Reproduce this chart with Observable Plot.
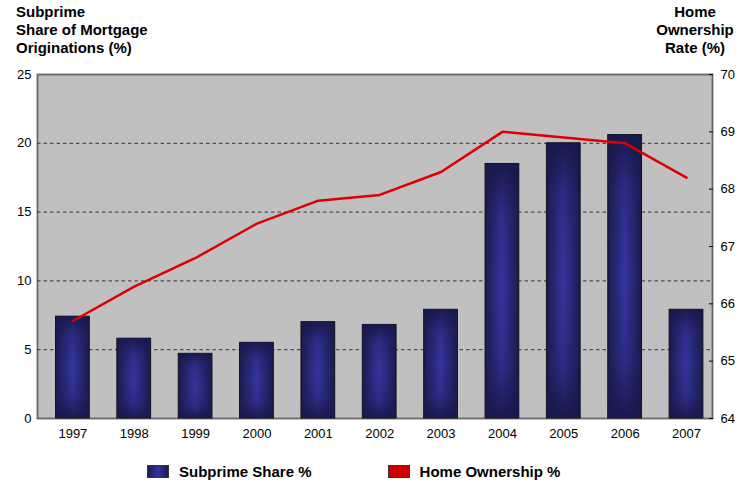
<!DOCTYPE html>
<html>
<head>
<meta charset="utf-8">
<script src="https://cdn.jsdelivr.net/npm/d3@7"></script>
<script src="https://cdn.jsdelivr.net/npm/@observablehq/plot@0.6"></script>
<style>
  body { margin: 0; background: #fff; font-family: "Liberation Sans", Arial, sans-serif; }
  #wrap { position: relative; width: 756px; height: 486px; }
  .ttl { position: absolute; font-weight: bold; font-size: 15px; line-height: 18px; color: #000; }
  #tl { left: 16px; top: 3px; }
  #tr { left: 640px; top: 3px; width: 110px; text-align: center; }
  #legend { position: absolute; top: 463px; left: 147px; font-weight: bold; font-size: 15px; display: flex; align-items: center; }
  .sw { display: inline-block; width: 22px; height: 13px; border: 1px solid #333; margin-right: 10px; box-sizing: border-box; }
  .item { display: flex; align-items: center; }
</style>
</head>
<body>
<div id="wrap">
  <div class="ttl" id="tl">Subprime<br>Share of Mortgage<br>Originations (%)</div>
  <div class="ttl" id="tr">Home<br>Ownership<br>Rate (%)</div>
  <div id="legend">
    <div class="item" style="margin-right:76px"><span class="sw" style="background:linear-gradient(90deg,#1c1c52,#34349c,#1c1c52)"></span>Subprime Share %</div>
    <div class="item"><span class="sw" style="background:#cc0000"></span>Home Ownership %</div>
  </div>
</div>
<script>
const years = ["1997","1998","1999","2000","2001","2002","2003","2004","2005","2006","2007"];
const subprimeShare = [7.4, 5.8, 4.7, 5.5, 7.0, 6.8, 7.9, 18.5, 20.0, 20.6, 7.9];
const homeOwnership = [65.7, 66.3, 66.8, 67.4, 67.8, 67.9, 68.3, 69.0, 68.9, 68.8, 68.2];
const leftTicks = [0, 5, 10, 15, 20, 25];
const gridTicks = [5, 10, 15, 20];
const rightTicks = [64, 65, 66, 67, 68, 69, 70];

const leftMax = 25, rightMin = 64, rightMax = 70;
const toLeft = v => (v - rightMin) * leftMax / (rightMax - rightMin);

const bars = years.map((y, i) => ({year: y, value: subprimeShare[i]}));
const line = years.map((y, i) => ({year: y, value: toLeft(homeOwnership[i])}));

const svg = Plot.plot({
  width: 756,
  height: 486,
  marginTop: 74,
  marginBottom: 68,
  marginLeft: 37,
  marginRight: 44,
  style: {fontFamily: "'Liberation Sans', Arial, sans-serif", fontSize: "13px", color: "#000", background: "transparent"},
  x: {domain: years, paddingInner: 0.45, paddingOuter: 0.225, align: 0.67, round: false, label: null},
  y: {domain: [0, leftMax], label: null},
  marks: [
    Plot.frame({fill: "#c0c0c0", stroke: "#666", strokeWidth: 1.8}),
    Plot.gridY(gridTicks, {stroke: "#333", strokeOpacity: 1, strokeDasharray: "3.5,3", strokeWidth: 1}),
    Plot.barY(bars, {x: "year", y: "value", fill: "url(#gH)", stroke: "#111", strokeWidth: 1}),
    Plot.barY(bars, {x: "year", y: "value", fill: "url(#gV)"}),
    Plot.line(line, {x: "year", y: "value", stroke: "#dd0000", strokeWidth: 2.5}),
    Plot.axisY(leftTicks, {anchor: "left", tickSize: 0, tickPadding: 6, label: null, fontSize: 13}),
    Plot.axisY(rightTicks.map(toLeft), {anchor: "right", tickSize: -4, tickPadding: 12, label: null, fontSize: 13,
      tickFormat: d => String(Math.round(d * (rightMax - rightMin) / leftMax + rightMin))}),
    Plot.axisX({tickSize: 0, tickPadding: 10, label: null, fontSize: 13})
  ]
});

const NS = "http://www.w3.org/2000/svg";
const defs = document.createElementNS(NS, "defs");
function grad(id, horiz, stops) {
  const g = document.createElementNS(NS, "linearGradient");
  g.setAttribute("id", id);
  g.setAttribute("x1", "0"); g.setAttribute("y1", "0");
  g.setAttribute("x2", horiz ? "1" : "0"); g.setAttribute("y2", horiz ? "0" : "1");
  for (const [o, c, op] of stops) {
    const s = document.createElementNS(NS, "stop");
    s.setAttribute("offset", o);
    s.setAttribute("stop-color", c);
    s.setAttribute("stop-opacity", op);
    g.appendChild(s);
  }
  defs.appendChild(g);
}
grad("gH", true, [[0, "#1b1b50", 1], [0.5, "#3535a0", 1], [1, "#1b1b50", 1]]);
grad("gV", false, [[0, "#18184a", 0.95], [0.2, "#18184a", 0.25], [0.5, "#18184a", 0], [0.8, "#18184a", 0.25], [1, "#18184a", 0.95]]);
svg.insertBefore(defs, svg.firstChild);
svg.style.position = "absolute";
svg.style.left = "0";
svg.style.top = "0";
document.getElementById("wrap").insertBefore(svg, document.getElementById("wrap").firstChild);
</script>
</body>
</html>
